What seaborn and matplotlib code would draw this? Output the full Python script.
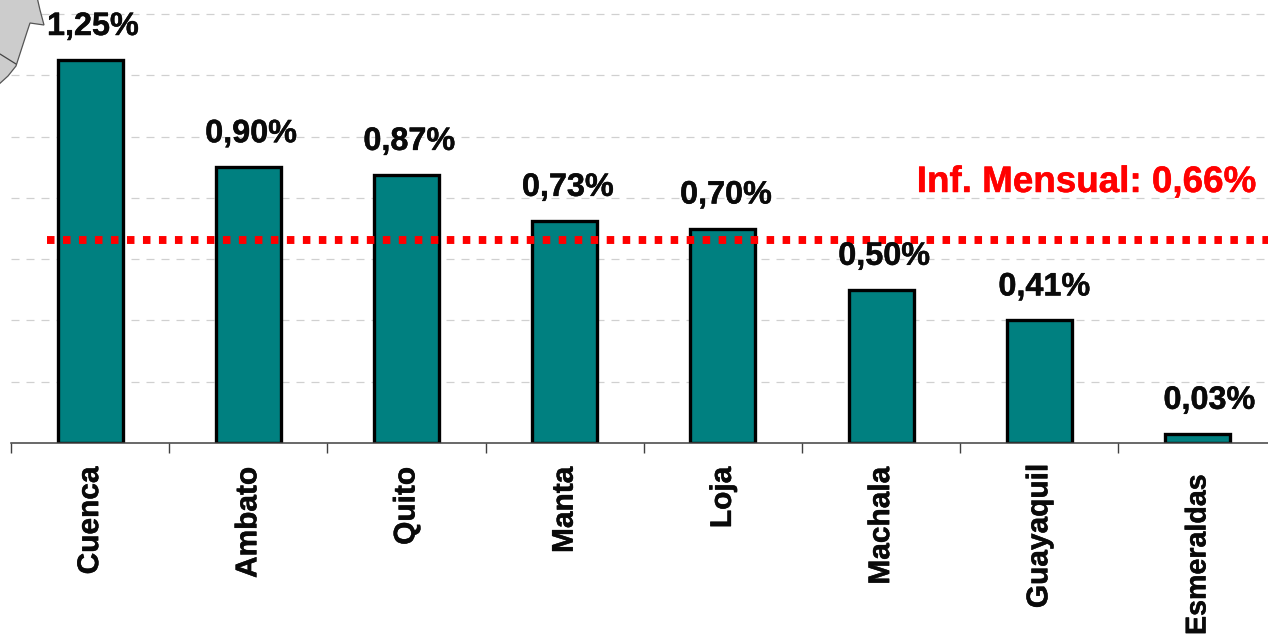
import matplotlib
matplotlib.use('Agg')
import matplotlib.pyplot as plt
import matplotlib.patheffects as pe
import seaborn as sns
import pandas as pd
from matplotlib.patches import Polygon


# --- data ---
cities = ['Cuenca', 'Ambato', 'Quito', 'Manta', 'Loja', 'Machala', 'Guayaquil', 'Esmeraldas']
bar_heights = [1.25, 0.90, 0.875, 0.725, 0.70, 0.50, 0.40, 0.03]
bar_labels = ['1,25%', '0,90%', '0,87%', '0,73%', '0,70%', '0,50%', '0,41%', '0,03%']
monthly_inf = 0.66
grid_levels = [0.2, 0.4, 0.6, 0.8, 1.0, 1.2, 1.4]

df = pd.DataFrame({'ciudad': cities, 'inflacion': bar_heights})

W, H = 1268, 638
BASE_Y = 443
PX_PER_UNIT = 306.4
STEP = 158.2

sns.set_style("white")
plt.rcParams['font.family'] = ['Liberation Sans', 'DejaVu Sans']

fig = plt.figure(figsize=(W / 100, H / 100), dpi=100)
ax = fig.add_axes([11 / W, 1 - BASE_Y / H, (W - 11) / W, BASE_Y / H])

# slight stroke, the original text is heavier than plain bold
heavy = [pe.withStroke(linewidth=0.35, foreground='#0a0a0a')]

# dashed background lines
for g in grid_levels:
    ax.axhline(g, color='#d0d0d0', lw=0.9, dashes=(6.4, 5.6), zorder=0)

sns.barplot(data=df, x='ciudad', y='inflacion', color='#008080', saturation=1,
            width=0.41, edgecolor='black', linewidth=2.4, ax=ax, zorder=2)

ax.set_xlim(-0.5, (W - 11) / STEP - 0.5)
ax.set_ylim(0, BASE_Y / PX_PER_UNIT)

# value labels above the bars, the last two sit further right in the original
label_dx = [2, 2, 2, 2.2, 2.2, 2.2, 3.6, 8.5]
for i, v in enumerate(bar_heights):
    ax.annotate(bar_labels[i], (i, v), xytext=(label_dx[i], 18), textcoords='offset points',
                ha='center', va='baseline', fontsize=23.3, fontweight='bold', color='#0a0a0a',
                zorder=4, annotation_clip=False, path_effects=heavy)

# monthly inflation reference line
ax.plot([-0.272, ax.get_xlim()[1]], [monthly_inf + 0.003, monthly_inf + 0.003], color='#ff0000',
        lw=5.7, dashes=(0.95, 1.07), dash_capstyle='butt', zorder=3)
fig.text(1256 / W, 1 - 192 / H, 'Inf. Mensual: ' + f'{monthly_inf:.2f}%'.replace('.', ','),
         ha='right', va='baseline', fontsize=26.5, fontweight='bold', color='#ff0000',
         path_effects=[pe.withStroke(linewidth=0.35, foreground='#ff0000')])

# axis: ticks between categories, labels rotated
sns.despine(ax=ax, left=True, top=True, right=True)
ax.spines['bottom'].set_color('#404040')
ax.spines['bottom'].set_linewidth(1.1)
ax.set_xlabel('')
ax.set_ylabel('')
ax.set_yticks([])
ax.set_xticks(range(len(cities)))
ax.set_xticklabels(cities, rotation=90, ha='center', va='top', fontsize=21.5, fontweight='bold',
                   color='#0a0a0a', path_effects=heavy)
ax.tick_params(axis='x', which='major', length=0, pad=17)
ax.set_xticks([i - 0.5 for i in range(len(cities))], minor=True)
ax.tick_params(axis='x', which='minor', length=7.5, width=1.0, color='#404040', bottom=True)

# the last two labels start at other heights in the original
major_ticks = ax.xaxis.get_major_ticks()
major_ticks[6].set_pad(14.5)
major_ticks[7].set_pad(22.5)
major_ticks[7].label1.set_fontsize(20.6)

# piece of the map in the top left corner
to_fig = lambda pts: [(x / W, 1 - y / H) for x, y in pts]
land = [(-3, -3), (37, -3), (40, 10), (44, 25), (30, 23), (27, 32), (16, 66), (8, 76), (-3, 86)]
fig.add_artist(Polygon(to_fig(land), closed=True, facecolor='#cccccc', edgecolor='#555555',
                       lw=0.9, transform=fig.transFigure, zorder=5))
fig.add_artist(plt.Line2D([0, 16 / W], [1 - 54 / H, 1 - 64 / H], color='#444444', lw=0.9,
                          transform=fig.transFigure, zorder=6))

fig.savefig('out.png', dpi=100, facecolor='white')
